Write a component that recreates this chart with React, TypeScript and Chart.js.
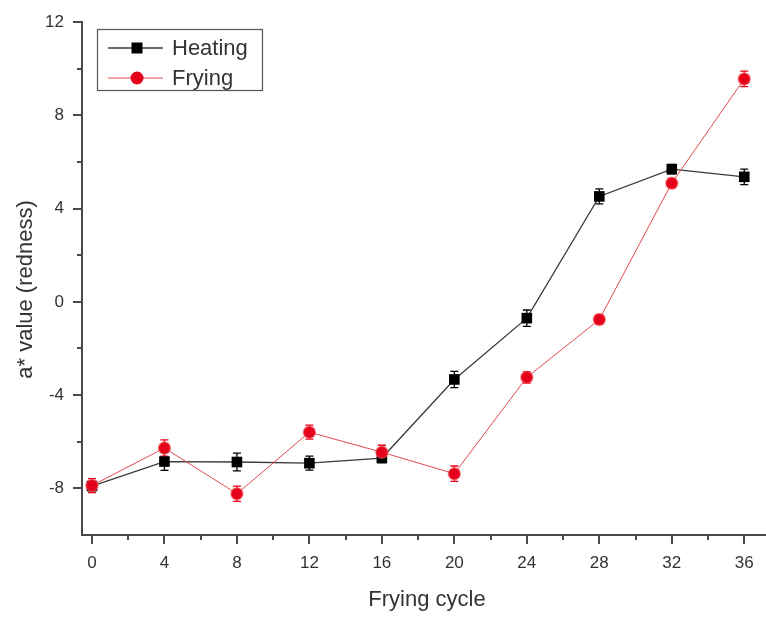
import { useEffect, useRef } from "react";
import { Chart, registerables } from "chart.js";

Chart.register(...registerables);

// Frying cycles (x) and measured a* values with their standard deviations
const CYCLES = [0, 4, 8, 12, 16, 20, 24, 28, 32, 36];
const HEATING = [-7.9, -6.85, -6.87, -6.92, -6.7, -3.33, -0.7, 4.52, 5.69, 5.36];
const HEATING_ERR = [0.2, 0.38, 0.38, 0.3, 0.2, 0.35, 0.35, 0.32, 0.2, 0.33];
const FRYING = [-7.88, -6.27, -8.23, -5.59, -6.45, -7.37, -3.24, -0.76, 5.09, 9.56];
const FRYING_ERR = [0.3, 0.35, 0.33, 0.3, 0.3, 0.33, 0.25, 0.2, 0.2, 0.33];

const X_TICKS = [0, 4, 8, 12, 16, 20, 24, 28, 32, 36];
const Y_TICKS = [-8, -4, 0, 4, 8, 12];
const X_MINOR_STEP = 2;
const Y_MINOR_STEP = 2;

const SERIES_NAMES = ["Heating", "Frying"];
const X_TITLE = "Frying cycle";
const Y_TITLE = "a* value (redness)";

const FONT = "'Liberation Sans', Arial, Helvetica, sans-serif";
const TEXT = "#333333";
const AXIS = "#4a4a4a";
const BLACK = "#000000";
const RED = "#e5001c";

const errorBars = {
  id: "errorBars",
  beforeDatasetsDraw(chart: any) {
    const { ctx } = chart;
    const y = chart.scales.y;
    chart.data.datasets.forEach((ds: any, di: number) => {
      const meta = chart.getDatasetMeta(di);
      const errs: number[] = ds.errors || [];
      ctx.save();
      ctx.strokeStyle = ds.errorColor;
      ctx.lineWidth = 1.3;
      meta.data.forEach((pt: any, i: number) => {
        const v = ds.data[i].y;
        const e = errs[i] || 0;
        const top = y.getPixelForValue(v + e);
        const bot = y.getPixelForValue(v - e);
        ctx.beginPath();
        ctx.moveTo(pt.x, top);
        ctx.lineTo(pt.x, bot);
        ctx.moveTo(pt.x - 4, top);
        ctx.lineTo(pt.x + 4, top);
        ctx.moveTo(pt.x - 4, bot);
        ctx.lineTo(pt.x + 4, bot);
        ctx.stroke();
      });
      ctx.restore();
    });
  },
};

const axisDecor = {
  id: "axisDecor",
  afterDraw(chart: any) {
    const { ctx, chartArea } = chart;
    const xs = chart.scales.x;
    const ys = chart.scales.y;
    ctx.save();
    ctx.strokeStyle = AXIS;
    ctx.lineWidth = 2;
    // x-axis ticks (outward)
    const x0 = Math.ceil(xs.min / X_MINOR_STEP) * X_MINOR_STEP;
    for (let v = x0; v <= xs.max; v += X_MINOR_STEP) {
      const px = Math.round(xs.getPixelForValue(v));
      if (px <= chartArea.left + 1) continue;
      const major = X_TICKS.includes(v);
      ctx.beginPath();
      ctx.moveTo(px, chartArea.bottom);
      ctx.lineTo(px, chartArea.bottom + (major ? 9 : 5));
      ctx.stroke();
    }
    // y-axis ticks (outward)
    const y0 = Math.ceil(ys.min / Y_MINOR_STEP) * Y_MINOR_STEP;
    for (let v = y0; v <= ys.max + 1e-9; v += Y_MINOR_STEP) {
      const py = Math.round(ys.getPixelForValue(v));
      if (py >= chartArea.bottom - 1) continue;
      const major = Y_TICKS.includes(v);
      ctx.beginPath();
      ctx.moveTo(chartArea.left, py);
      ctx.lineTo(chartArea.left - (major ? 9 : 5), py);
      ctx.stroke();
    }
    ctx.restore();

    // axis titles
    ctx.save();
    ctx.fillStyle = TEXT;
    ctx.font = `22px ${FONT}`;
    ctx.textAlign = "center";
    ctx.textBaseline = "middle";
    ctx.fillText(X_TITLE, 427, chartArea.bottom + 65);
    ctx.translate(chartArea.left - 56, (chartArea.top + chartArea.bottom) / 2 + 11);
    ctx.rotate(-Math.PI / 2);
    ctx.fillText(Y_TITLE, 0, 0);
    ctx.restore();

    // legend box
    const lx = chartArea.left + 15;
    const ly = chartArea.top + 7;
    const lw = 165;
    const lh = 61;
    ctx.save();
    ctx.strokeStyle = "#555555";
    ctx.lineWidth = 1.2;
    ctx.strokeRect(lx + 0.5, ly + 0.5, lw, lh);
    chart.data.datasets.forEach((ds: any, i: number) => {
      const cy = ly + 19 + i * 30;
      ctx.strokeStyle = ds.borderColor;
      ctx.lineWidth = ds.borderWidth;
      ctx.beginPath();
      ctx.moveTo(lx + 11, cy);
      ctx.lineTo(lx + 66, cy);
      ctx.stroke();
      const mx = lx + 40;
      ctx.fillStyle = ds.pointBackgroundColor;
      if (ds.pointStyle === "rect") {
        ctx.fillRect(mx - 5.5, cy - 5.5, 11, 11);
      } else {
        ctx.beginPath();
        ctx.arc(mx, cy, 6.5, 0, Math.PI * 2);
        ctx.fill();
      }
      ctx.fillStyle = TEXT;
      ctx.font = `22px ${FONT}`;
      ctx.textAlign = "left";
      ctx.textBaseline = "middle";
      ctx.fillText(ds.label, lx + 75, cy + 1);
    });
    ctx.restore();
  },
};

export default function App() {
  const ref = useRef<HTMLCanvasElement | null>(null);

  useEffect(() => {
    if (!ref.current) return;
    const toPoints = (ys: number[]) => CYCLES.map((x, i) => ({ x, y: ys[i] }));
    const chart = new Chart(ref.current, {
      type: "line",
      data: {
        datasets: [
          {
            label: SERIES_NAMES[0],
            data: toPoints(HEATING),
            errors: HEATING_ERR,
            errorColor: BLACK,
            borderColor: "#3a3a3a",
            borderWidth: 1.3,
            pointStyle: "rect",
            pointRadius: 7.5,
            pointHoverRadius: 7.5,
            pointBackgroundColor: BLACK,
            pointBorderColor: BLACK,
            pointBorderWidth: 0,
            order: 1,
          } as any,
          {
            label: SERIES_NAMES[1],
            data: toPoints(FRYING),
            errors: FRYING_ERR,
            errorColor: RED,
            borderColor: "#e04a4e",
            borderWidth: 1,
            pointStyle: "circle",
            pointRadius: 6,
            pointHoverRadius: 6,
            pointBackgroundColor: RED,
            pointBorderColor: "rgba(240,90,90,0.55)",
            pointBorderWidth: 1.5,
            order: 0,
          } as any,
        ],
      },
      options: {
        responsive: false,
        animation: false,
        events: [],
        layout: { autoPadding: false, padding: { top: 22, left: 0, right: 0, bottom: 0 } },
        plugins: {
          legend: { display: false },
          tooltip: { enabled: false },
        },
        scales: {
          x: {
            type: "linear",
            min: -0.55,
            max: 37.2,
            afterFit: (s: any) => {
              s.height = 82;
              s.paddingLeft = 0;
              s.paddingRight = 0;
            },
            afterBuildTicks: (s: any) => {
              s.ticks = X_TICKS.map((value) => ({ value }));
            },
            grid: { display: false, drawTicks: false },
            border: { display: true, color: AXIS, width: 2 },
            ticks: {
              padding: 18,
              color: TEXT,
              font: { family: FONT, size: 17 },
              maxRotation: 0,
              autoSkip: false,
            },
          },
          y: {
            type: "linear",
            min: -10,
            max: 12,
            afterFit: (s: any) => {
              s.width = 82;
              s.paddingTop = 0;
              s.paddingBottom = 0;
            },
            afterBuildTicks: (s: any) => {
              s.ticks = Y_TICKS.map((value) => ({ value }));
            },
            grid: { display: false, drawTicks: false },
            border: { display: true, color: AXIS, width: 2 },
            ticks: {
              padding: 18,
              color: TEXT,
              font: { family: FONT, size: 17 },
              autoSkip: false,
            },
          },
        },
      },
      plugins: [errorBars, axisDecor],
    } as any);
    return () => chart.destroy();
  }, []);

  return (
    <div style={{ position: "fixed", left: 0, top: 0, width: 766, height: 617, background: "#fff" }}>
      <canvas ref={ref} width={766} height={617} />
    </div>
  );
}
